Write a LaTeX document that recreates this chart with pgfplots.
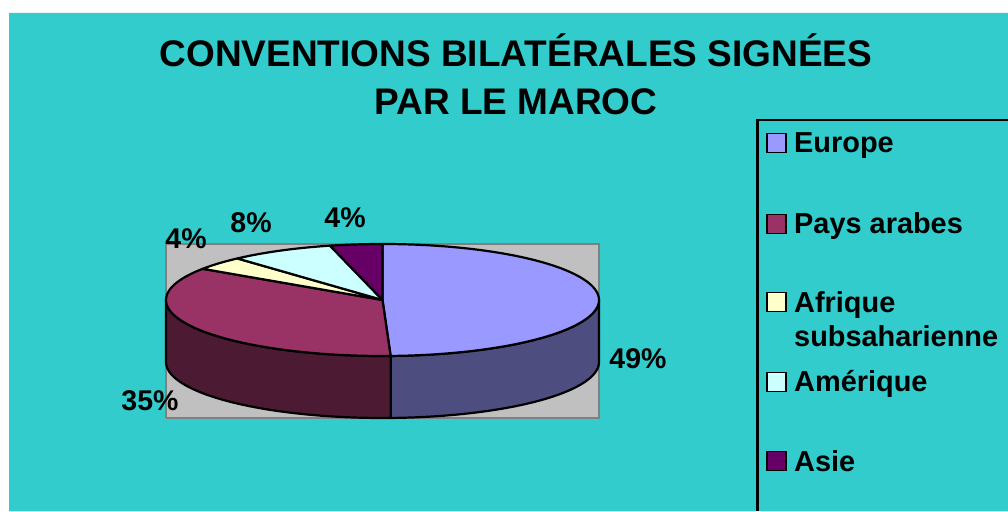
\documentclass[border=0pt]{standalone}
\usepackage{pgfplots}
\pgfplotsset{compat=1.18}
\usepackage{pgfplotstable}
\usepackage{fontspec}
\setmainfont{Liberation Sans}

\definecolor{bgteal}{HTML}{33CCCC}
\definecolor{plotgray}{HTML}{C0C0C0}
\definecolor{plotborder}{HTML}{808080}
\definecolor{europe}{HTML}{9999FF}
\definecolor{europeside}{HTML}{4D4D80}
\definecolor{arabes}{HTML}{993366}
\definecolor{arabesside}{HTML}{4D1A33}
\definecolor{afrique}{HTML}{FFFFCC}
\definecolor{amerique}{HTML}{CCFFFF}
\definecolor{asie}{HTML}{660066}

\pgfplotstableread{
region pct
Europe 49.4
Arabes 35.0
Afrique 3.9
Amerique 7.8
Asie 3.9
}\pietable

\newcommand\titlefont{\fontsize{37.0}{48}\selectfont\bfseries}
\newcommand\labfont{\fontsize{28.5}{34}\selectfont\bfseries}
\newcommand\legfont{\fontsize{28.9}{34}\selectfont\bfseries}
\newcommand\pct[1]{\pgfmathprintnumber[fixed,precision=0,assume math mode=true]{#1}\%}

\begin{document}
\begin{tikzpicture}
\pgfplotstablegetelem{0}{pct}\of\pietable \let\pA\pgfplotsretval
\pgfplotstablegetelem{1}{pct}\of\pietable \let\pB\pgfplotsretval
\pgfplotstablegetelem{2}{pct}\of\pietable \let\pC\pgfplotsretval
\pgfplotstablegetelem{3}{pct}\of\pietable \let\pD\pgfplotsretval
\pgfplotstablegetelem{4}{pct}\of\pietable \let\pE\pgfplotsretval
\pgfmathsetmacro{\tA}{90}
\pgfmathsetmacro{\tB}{\tA-3.6*\pA}
\pgfmathsetmacro{\tC}{\tB-3.6*\pB}
\pgfmathsetmacro{\tD}{\tC-3.6*\pC}
\pgfmathsetmacro{\tE}{\tD-3.6*\pD}
\pgfmathsetmacro{\tF}{\tE-3.6*\pE}
\pgfmathsetmacro{\sL}{max(\tC,-180)}
\def\cx{382.5}\def\cy{211}\def\ra{216.5}\def\rb{56}\def\hh{62}

\begin{axis}[width=1008pt,height=511pt,scale only axis,
  xmin=0,xmax=1008,ymin=0,ymax=511,
  hide axis, clip=false, no markers,
  declare function={cl(\u)=min(max(\u,0),1);}]
% backgrounds
\addplot[fill=white, draw=none] coordinates {(0,0)(1008,0)(1008,511)(0,511)(0,0)};
\addplot[fill=bgteal, draw=none] coordinates {(9,0)(1008,0)(1008,498)(9,498)(9,0)};
\addplot[fill=plotgray, draw=plotborder, line width=2pt] coordinates {(166,93)(599,93)(599,267)(166,267)(166,93)};

% side walls (front half)
\addplot[variable=\t, domain=0:4, samples=401, fill=europeside, draw=black, line width=2.2pt, line join=round]
  ({\cx+\ra*cos(\tB+(0-\tB)*(cl(\t)-cl(\t-2)))},
   {\cy+\rb*sin(\tB+(0-\tB)*(cl(\t)-cl(\t-2)))-\hh*(cl(\t-1)-cl(\t-3))});
\addplot[variable=\t, domain=0:4, samples=401, fill=arabesside, draw=black, line width=2.2pt, line join=round]
  ({\cx+\ra*cos(\sL+(\tB-\sL)*(cl(\t)-cl(\t-2)))},
   {\cy+\rb*sin(\sL+(\tB-\sL)*(cl(\t)-cl(\t-2)))-\hh*(cl(\t-1)-cl(\t-3))});

% top wedges
\addplot[variable=\t, domain=\tB:\tA, samples=120, fill=europe, draw=black, line width=2.2pt, line join=round]
  ({\cx+\ra*cos(\t)},{\cy+\rb*sin(\t)}) -- (axis cs:\cx,\cy) -- cycle;
\addplot[variable=\t, domain=\tC:\tB, samples=100, fill=arabes, draw=black, line width=2.2pt, line join=round]
  ({\cx+\ra*cos(\t)},{\cy+\rb*sin(\t)}) -- (axis cs:\cx,\cy) -- cycle;
\addplot[variable=\t, domain=\tD:\tC, samples=30, fill=afrique, draw=black, line width=2.2pt, line join=round]
  ({\cx+\ra*cos(\t)},{\cy+\rb*sin(\t)}) -- (axis cs:\cx,\cy) -- cycle;
\addplot[variable=\t, domain=\tE:\tD, samples=40, fill=amerique, draw=black, line width=2.2pt, line join=round]
  ({\cx+\ra*cos(\t)},{\cy+\rb*sin(\t)}) -- (axis cs:\cx,\cy) -- cycle;
\addplot[variable=\t, domain=\tF:\tE, samples=30, fill=asie, draw=black, line width=2.2pt, line join=round]
  ({\cx+\ra*cos(\t)},{\cy+\rb*sin(\t)}) -- (axis cs:\cx,\cy) -- cycle;

% percentage labels
\node[font=\labfont, inner sep=0] at (axis cs:638,152) {\pct{\pA}};
\node[font=\labfont, inner sep=0] at (axis cs:150,110) {\pct{\pB}};
\node[font=\labfont, inner sep=0] at (axis cs:186,272) {\pct{\pC}};
\node[font=\labfont, inner sep=0] at (axis cs:251,288) {\pct{\pD}};
\node[font=\labfont, inner sep=0] at (axis cs:345,293) {\pct{\pE}};

% title
\node[font=\titlefont, anchor=base, inner sep=0] at (axis cs:516,444) {CONVENTIONS BILATÉRALES SIGNÉES};
\node[font=\titlefont, anchor=base, inner sep=0] at (axis cs:516,396) {PAR LE MAROC};

% legend
\draw[line width=2.5pt] (axis cs:1008,391) -- (axis cs:757.5,391) -- (axis cs:757.5,0);
\draw[fill=europe, line width=1.5pt] (axis cs:767,358.5) rectangle (axis cs:786,377.5);
\draw[fill=arabes, line width=1.5pt] (axis cs:767,277.5) rectangle (axis cs:786,296.5);
\draw[fill=afrique, line width=1.5pt] (axis cs:767,199.5) rectangle (axis cs:786,218.5);
\draw[fill=amerique, line width=1.5pt] (axis cs:767,119.5) rectangle (axis cs:786,138.5);
\draw[fill=asie, line width=1.5pt] (axis cs:767,40.5) rectangle (axis cs:786,59.5);
\node[font=\legfont, anchor=base west, inner sep=0] at (axis cs:794,358) {Europe};
\node[font=\legfont, anchor=base west, inner sep=0] at (axis cs:794,277) {Pays arabes};
\node[font=\legfont, anchor=base west, inner sep=0] at (axis cs:794,198) {Afrique};
\node[font=\legfont, anchor=base west, inner sep=0] at (axis cs:794,164) {subsaharienne};
\node[font=\legfont, anchor=base west, inner sep=0] at (axis cs:794,119) {Amérique};
\node[font=\legfont, anchor=base west, inner sep=0] at (axis cs:794,40) {Asie};
\end{axis}
\pgfresetboundingbox
\path[use as bounding box] (0,0) rectangle (1008pt,511pt);
\end{tikzpicture}
\end{document}
